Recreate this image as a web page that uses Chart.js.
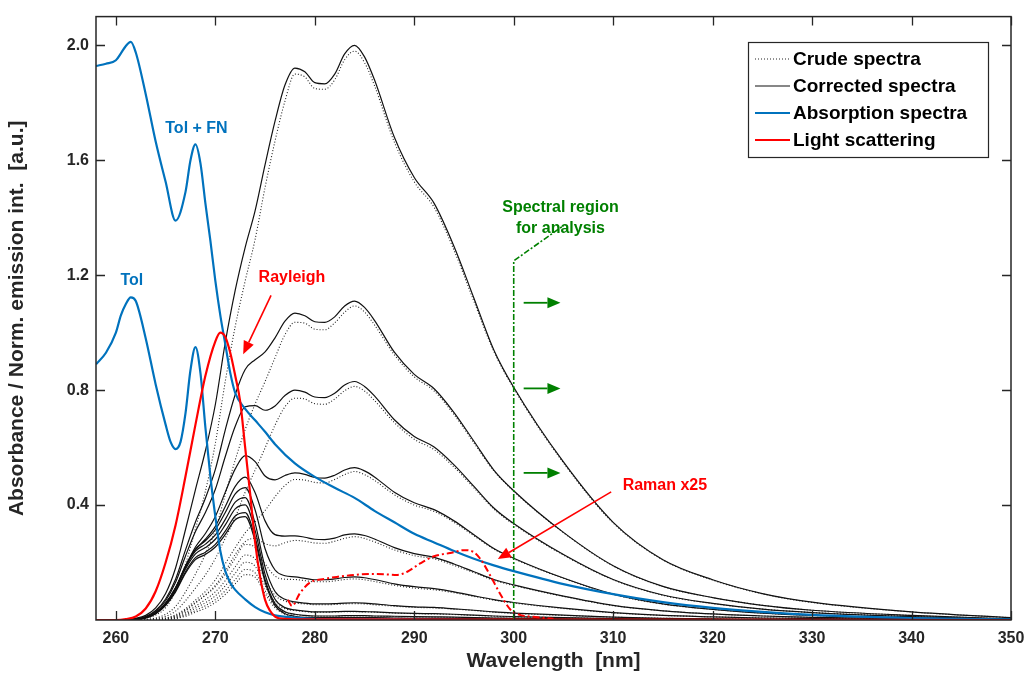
<!DOCTYPE html>
<html>
<head>
<meta charset="utf-8">
<script src="https://cdn.jsdelivr.net/npm/chart.js@4.4.0/dist/chart.umd.min.js"></script>
<style>
  html, body { margin: 0; padding: 0; background: #fff; }
  #wrap { width: 1025px; height: 675px; position: relative; }
</style>
</head>
<body>
<div id="wrap"><canvas id="spectra-chart"></canvas></div>
<script>
// wavelength grid (nm) of the emission spectra
var wavelengths = [258, 260, 262, 263, 264, 265, 266, 267, 268, 269, 270, 271, 272, 273, 274, 275, 276, 277, 278, 279, 280, 281, 282, 283, 284, 285, 286, 288, 290, 292, 294, 296, 298, 300, 305, 310, 315, 320, 325, 330, 340, 350];

// corrected emission spectra (solid)
var corrected1 = [0, 0, 0.006, 0.016, 0.042, 0.092, 0.181, 0.315, 0.454, 0.589, 0.75, 0.966, 1.148, 1.297, 1.425, 1.585, 1.736, 1.862, 1.921, 1.908, 1.87, 1.866, 1.9, 1.97, 2.0, 1.96, 1.88, 1.68, 1.54, 1.45, 1.3, 1.12, 0.94, 0.81, 0.55, 0.34, 0.21, 0.14, 0.092, 0.062, 0.028, 0.008];
var corrected2 = [0, 0, 0.004, 0.012, 0.033, 0.073, 0.142, 0.244, 0.341, 0.424, 0.524, 0.662, 0.785, 0.872, 0.906, 0.933, 0.982, 1.04, 1.068, 1.059, 1.038, 1.036, 1.055, 1.093, 1.11, 1.088, 1.043, 0.932, 0.855, 0.805, 0.722, 0.622, 0.522, 0.45, 0.305, 0.189, 0.117, 0.078, 0.051, 0.034, 0.016, 0.004];
var corrected3 = [0, 0, 0.003, 0.011, 0.03, 0.067, 0.131, 0.223, 0.308, 0.374, 0.455, 0.569, 0.674, 0.742, 0.746, 0.73, 0.745, 0.781, 0.8, 0.793, 0.776, 0.774, 0.789, 0.818, 0.83, 0.813, 0.78, 0.697, 0.639, 0.602, 0.54, 0.465, 0.39, 0.336, 0.228, 0.141, 0.087, 0.058, 0.038, 0.026, 0.012, 0.003];
var corrected4 = [0, 0, 0.003, 0.009, 0.025, 0.057, 0.11, 0.187, 0.254, 0.301, 0.36, 0.445, 0.526, 0.572, 0.551, 0.501, 0.488, 0.503, 0.512, 0.507, 0.496, 0.494, 0.504, 0.522, 0.53, 0.519, 0.498, 0.445, 0.408, 0.384, 0.345, 0.297, 0.249, 0.215, 0.146, 0.09, 0.056, 0.037, 0.024, 0.016, 0.007, 0.002];
var corrected5 = [0, 0, 0.002, 0.009, 0.025, 0.057, 0.11, 0.185, 0.245, 0.281, 0.326, 0.395, 0.465, 0.497, 0.443, 0.345, 0.297, 0.292, 0.293, 0.288, 0.281, 0.28, 0.285, 0.296, 0.3, 0.294, 0.282, 0.252, 0.231, 0.218, 0.195, 0.168, 0.141, 0.122, 0.083, 0.051, 0.032, 0.021, 0.014, 0.009, 0.004, 0.001];
var corrected6 = [0, 0, 0.002, 0.009, 0.025, 0.058, 0.113, 0.189, 0.247, 0.276, 0.314, 0.374, 0.439, 0.461, 0.383, 0.248, 0.174, 0.154, 0.15, 0.145, 0.14, 0.14, 0.143, 0.148, 0.15, 0.147, 0.141, 0.126, 0.116, 0.109, 0.098, 0.084, 0.071, 0.061, 0.041, 0.026, 0.016, 0.011, 0.007, 0.005, 0.002, 0.001];
var corrected7 = [0, 0, 0.002, 0.008, 0.025, 0.058, 0.111, 0.185, 0.24, 0.264, 0.296, 0.35, 0.41, 0.426, 0.336, 0.184, 0.099, 0.072, 0.063, 0.059, 0.056, 0.056, 0.057, 0.059, 0.06, 0.059, 0.056, 0.05, 0.046, 0.044, 0.039, 0.034, 0.028, 0.024, 0.017, 0.01, 0.006, 0.004, 0.003, 0.002, 0.001, 0];
var corrected8 = [0, 0, 0.002, 0.008, 0.024, 0.055, 0.107, 0.178, 0.23, 0.252, 0.281, 0.331, 0.387, 0.401, 0.311, 0.159, 0.072, 0.043, 0.035, 0.031, 0.028, 0.028, 0.029, 0.03, 0.03, 0.029, 0.028, 0.025, 0.023, 0.022, 0.02, 0.017, 0.014, 0.012, 0.008, 0.005, 0.003, 0.002, 0.001, 0.001, 0, 0];
var corrected9 = [0, 0, 0.002, 0.007, 0.022, 0.052, 0.101, 0.168, 0.217, 0.236, 0.263, 0.309, 0.362, 0.374, 0.287, 0.141, 0.057, 0.029, 0.02, 0.016, 0.014, 0.014, 0.014, 0.015, 0.015, 0.015, 0.014, 0.013, 0.012, 0.011, 0.01, 0.008, 0.007, 0.006, 0.004, 0.003, 0.002, 0.001, 0.001, 0, 0, 0];
var corrected10 = [0, 0, 0.002, 0.007, 0.022, 0.051, 0.098, 0.163, 0.21, 0.228, 0.254, 0.298, 0.349, 0.36, 0.275, 0.132, 0.05, 0.022, 0.013, 0.009, 0.008, 0.008, 0.008, 0.008, 0.008, 0.008, 0.008, 0.007, 0.006, 0.006, 0.005, 0.005, 0.004, 0.003, 0.002, 0.001, 0.001, 0, 0, 0, 0, 0];

// crude emission spectra (dotted)
var crude1 = [0, 0, 0.002, 0.006, 0.017, 0.043, 0.1, 0.195, 0.318, 0.448, 0.615, 0.831, 1.022, 1.18, 1.325, 1.506, 1.667, 1.806, 1.9, 1.89, 1.85, 1.847, 1.88, 1.95, 1.98, 1.94, 1.86, 1.663, 1.525, 1.436, 1.287, 1.109, 0.935, 0.806, 0.547, 0.338, 0.209, 0.139, 0.091, 0.061, 0.028, 0.008];
var crude2 = [0, 0, 0.001, 0.002, 0.007, 0.02, 0.047, 0.098, 0.16, 0.229, 0.314, 0.437, 0.557, 0.663, 0.752, 0.83, 0.913, 0.993, 1.036, 1.033, 1.012, 1.01, 1.034, 1.071, 1.093, 1.072, 1.027, 0.923, 0.846, 0.797, 0.715, 0.616, 0.519, 0.448, 0.304, 0.188, 0.116, 0.078, 0.051, 0.034, 0.016, 0.004];
var crude3 = [0, 0, 0, 0.001, 0.005, 0.013, 0.031, 0.067, 0.111, 0.157, 0.214, 0.285, 0.357, 0.445, 0.522, 0.599, 0.678, 0.742, 0.772, 0.769, 0.753, 0.751, 0.769, 0.798, 0.813, 0.797, 0.764, 0.687, 0.629, 0.593, 0.532, 0.46, 0.386, 0.333, 0.226, 0.14, 0.086, 0.057, 0.038, 0.026, 0.012, 0.003];
var crude4 = [0, 0, 0, 0.001, 0.002, 0.007, 0.018, 0.039, 0.069, 0.099, 0.14, 0.196, 0.252, 0.303, 0.342, 0.381, 0.429, 0.468, 0.489, 0.487, 0.479, 0.477, 0.489, 0.506, 0.517, 0.506, 0.486, 0.436, 0.4, 0.378, 0.34, 0.293, 0.247, 0.213, 0.145, 0.089, 0.055, 0.037, 0.024, 0.016, 0.007, 0.002];
var crude5 = [0, 0, 0, 0, 0.002, 0.006, 0.015, 0.035, 0.061, 0.087, 0.121, 0.17, 0.228, 0.273, 0.284, 0.266, 0.258, 0.269, 0.277, 0.274, 0.268, 0.267, 0.274, 0.284, 0.29, 0.284, 0.272, 0.244, 0.224, 0.213, 0.19, 0.165, 0.138, 0.12, 0.082, 0.05, 0.032, 0.021, 0.014, 0.009, 0.004, 0.001];
var crude6 = [0, 0, 0, 0, 0.001, 0.004, 0.013, 0.032, 0.059, 0.086, 0.116, 0.161, 0.215, 0.263, 0.253, 0.196, 0.153, 0.142, 0.141, 0.137, 0.133, 0.133, 0.136, 0.141, 0.143, 0.14, 0.134, 0.121, 0.111, 0.105, 0.095, 0.082, 0.069, 0.059, 0.04, 0.025, 0.016, 0.011, 0.007, 0.005, 0.002, 0.001];
var crude7 = [0, 0, 0, 0, 0.001, 0.003, 0.01, 0.026, 0.048, 0.071, 0.098, 0.137, 0.185, 0.226, 0.212, 0.142, 0.086, 0.066, 0.059, 0.056, 0.053, 0.053, 0.054, 0.056, 0.057, 0.056, 0.053, 0.048, 0.044, 0.042, 0.038, 0.033, 0.027, 0.023, 0.016, 0.01, 0.006, 0.004, 0.003, 0.002, 0.001, 0];
var crude8 = [0, 0, 0, 0, 0.001, 0.003, 0.008, 0.021, 0.041, 0.06, 0.084, 0.119, 0.163, 0.201, 0.187, 0.119, 0.062, 0.039, 0.033, 0.029, 0.027, 0.027, 0.028, 0.029, 0.029, 0.028, 0.027, 0.024, 0.022, 0.021, 0.019, 0.016, 0.013, 0.011, 0.008, 0.005, 0.003, 0.002, 0.001, 0.001, 0, 0];
var crude9 = [0, 0, 0, 0, 0.001, 0.002, 0.006, 0.017, 0.033, 0.05, 0.071, 0.102, 0.141, 0.176, 0.164, 0.102, 0.048, 0.026, 0.019, 0.015, 0.013, 0.013, 0.013, 0.014, 0.014, 0.014, 0.013, 0.012, 0.011, 0.01, 0.009, 0.008, 0.007, 0.006, 0.004, 0.003, 0.002, 0.001, 0.001, 0, 0, 0];
var crude10 = [0, 0, 0, 0, 0, 0.002, 0.005, 0.013, 0.027, 0.041, 0.061, 0.089, 0.126, 0.158, 0.149, 0.092, 0.042, 0.02, 0.012, 0.008, 0.007, 0.007, 0.007, 0.0075, 0.0075, 0.0075, 0.007, 0.006, 0.006, 0.005, 0.005, 0.004, 0.004, 0.003, 0.002, 0.001, 0.001, 0, 0, 0, 0, 0];

// absorption spectra (blue)
var absTolFnX = [258, 259, 260, 260.5, 261, 261.5, 262, 263, 264, 265, 266, 267, 267.5, 268, 268.5, 269, 269.5, 270, 270.5, 271, 271.5, 272, 273, 274, 275, 276, 278, 280, 282, 284, 286, 288, 290, 292, 294, 296, 298, 300, 305, 310, 315, 320, 325, 330, 340, 350];
var absTolFnY = [1.928, 1.936, 1.948, 1.972, 1.998, 2.012, 1.975, 1.83, 1.665, 1.525, 1.39, 1.49, 1.6, 1.655, 1.59, 1.45, 1.32, 1.18, 1.06, 0.96, 0.86, 0.79, 0.735, 0.695, 0.655, 0.612, 0.545, 0.498, 0.46, 0.425, 0.38, 0.34, 0.3, 0.27, 0.24, 0.213, 0.19, 0.17, 0.125, 0.09, 0.062, 0.042, 0.028, 0.018, 0.007, 0.002];
var absTolX = [258, 259, 260, 260.5, 261, 261.5, 262, 263, 264, 265, 265.5, 266, 266.5, 267, 267.5, 268, 268.5, 269, 269.5, 270, 270.5, 271, 271.5, 272, 273, 274, 275, 276, 278, 280, 285, 290, 300, 350];
var absTolY = [0.89, 0.93, 1.0, 1.06, 1.1, 1.123, 1.11, 0.98, 0.82, 0.68, 0.62, 0.595, 0.62, 0.72, 0.87, 0.95, 0.86, 0.67, 0.5, 0.36, 0.24, 0.17, 0.13, 0.105, 0.072, 0.045, 0.027, 0.016, 0.008, 0.004, 0.002, 0.001, 0, 0];

// light scattering (red)
var rayleighX = [258, 260, 261, 262, 263, 264, 265, 266, 267, 268, 269, 270, 270.5, 271, 271.5, 272, 272.5, 273, 273.5, 274, 274.5, 275, 275.5, 276, 277, 280, 300, 350];
var rayleighY = [0, 0, 0.003, 0.012, 0.04, 0.1, 0.2, 0.33, 0.5, 0.68, 0.85, 0.97, 1.0, 0.985, 0.93, 0.85, 0.76, 0.6, 0.44, 0.27, 0.15, 0.07, 0.032, 0.012, 0.004, 0.002, 0.001, 0];
var ramanX = [277.3, 277.7, 278.5, 279.5, 281, 282.2, 284, 285.6, 287, 288.3, 289.3, 290.6, 292, 293.6, 295, 296, 296.7, 297.7, 298.7, 299.7, 300.7, 302, 304];
var ramanY = [0.07, 0.049, 0.093, 0.13, 0.143, 0.15, 0.157, 0.16, 0.159, 0.157, 0.168, 0.197, 0.222, 0.233, 0.243, 0.236, 0.21, 0.151, 0.087, 0.035, 0.017, 0.011, 0.004];

// spectral region marker (green)
var regionX = [300, 300, 304.9];
var regionY = [0, 1.25, 1.37];

var xTicks = [260, 270, 280, 290, 300, 310, 320, 330, 340, 350];
var yTicks = [0.4, 0.8, 1.2, 1.6, 2.0];

var correctedSpectra = [corrected1, corrected2, corrected3, corrected4, corrected5, corrected6, corrected7, corrected8, corrected9, corrected10];
var crudeSpectra = [crude1, crude2, crude3, crude4, crude5, crude6, crude7, crude8, crude9, crude10];

var BLUE = '#0072BD';
var RED = '#FF0000';
var GREEN = '#008000';
var FONT = '"Liberation Sans", Arial, Helvetica, sans-serif';

function toPoints(xs, ys) {
    return xs.map(function(x, i) { return { x: x, y: ys[i] }; });
}

var datasets = [];
datasets.push({ label: 'Rayleigh', data: toPoints(rayleighX, rayleighY), borderColor: RED, borderWidth: 2.2, order: 1, cubicInterpolationMode: 'monotone' });
datasets.push({ label: 'Raman x25', data: toPoints(ramanX, ramanY), borderColor: RED, borderWidth: 2, borderDash: [7, 3, 2, 3], order: 1, cubicInterpolationMode: 'monotone' });
datasets.push({ label: 'Tol + FN', data: toPoints(absTolFnX, absTolFnY), borderColor: BLUE, borderWidth: 2.2, order: 2, cubicInterpolationMode: 'monotone' });
datasets.push({ label: 'Tol', data: toPoints(absTolX, absTolY), borderColor: BLUE, borderWidth: 2.2, order: 2, cubicInterpolationMode: 'monotone' });
datasets.push({ label: 'Region', data: toPoints(regionX, regionY), borderColor: GREEN, borderWidth: 1.6, borderDash: [6, 2, 2, 2], order: 3, tension: 0 });
correctedSpectra.forEach(function(ys, i) {
    datasets.push({ label: 'Corrected ' + (i + 1), data: toPoints(wavelengths, ys), borderColor: '#111', borderWidth: 1.2, order: 4, cubicInterpolationMode: 'monotone' });
});
crudeSpectra.forEach(function(ys, i) {
    datasets.push({ label: 'Crude ' + (i + 1), data: toPoints(wavelengths, ys), borderColor: '#222', borderWidth: 1.1, borderDash: [1, 2], order: 5, cubicInterpolationMode: 'monotone' });
});

// texts and arrows placed in data units
var labels = [
    { text: 'Tol + FN', x: 268.1, y: 1.71, color: BLUE },
    { text: 'Tol', x: 261.6, y: 1.182, color: BLUE },
    { text: 'Rayleigh', x: 277.7, y: 1.193, color: RED },
    { text: 'Raman x25', x: 315.2, y: 0.469, color: RED },
    { text: 'Spectral region', x: 304.7, y: 1.435, color: GREEN },
    { text: 'for analysis', x: 304.7, y: 1.362, color: GREEN }
];
var arrows = [
    { x1: 275.6, y1: 1.13, x2: 272.8, y2: 0.925, color: RED, width: 1.6 },
    { x1: 309.8, y1: 0.446, x2: 298.4, y2: 0.212, color: RED, width: 1.6 },
    { x1: 301.0, y1: 1.104, x2: 304.7, y2: 1.104, color: GREEN, width: 1.8 },
    { x1: 301.0, y1: 0.806, x2: 304.7, y2: 0.806, color: GREEN, width: 1.8 },
    { x1: 301.0, y1: 0.512, x2: 304.7, y2: 0.512, color: GREEN, width: 1.8 }
];
var legendItems = [
    { text: 'Crude spectra', color: '#222', width: 1, dash: [1, 2] },
    { text: 'Corrected spectra', color: '#111', width: 1.2, dash: [] },
    { text: 'Absorption spectra', color: BLUE, width: 2, dash: [] },
    { text: 'Light scattering', color: RED, width: 2, dash: [] }
];

function drawArrow(ctx, x1, y1, x2, y2, color, width) {
    var ang = Math.atan2(y2 - y1, x2 - x1);
    var head = 13, half = 5.5;
    var bx = x2 - head * Math.cos(ang), by = y2 - head * Math.sin(ang);
    ctx.strokeStyle = color;
    ctx.fillStyle = color;
    ctx.lineWidth = width;
    ctx.setLineDash([]);
    ctx.beginPath();
    ctx.moveTo(x1, y1);
    ctx.lineTo(bx, by);
    ctx.stroke();
    ctx.beginPath();
    ctx.moveTo(x2, y2);
    ctx.lineTo(bx + half * Math.sin(ang), by - half * Math.cos(ang));
    ctx.lineTo(bx - half * Math.sin(ang), by + half * Math.cos(ang));
    ctx.closePath();
    ctx.fill();
}

var decorations = {
    id: 'decorations',
    afterDatasetsDraw: function(chart) {
        var ctx = chart.ctx, a = chart.chartArea;
        var xs = chart.scales.x, ys = chart.scales.y;
        ctx.save();

        arrows.forEach(function(ar) {
            drawArrow(ctx, xs.getPixelForValue(ar.x1), ys.getPixelForValue(ar.y1),
                xs.getPixelForValue(ar.x2), ys.getPixelForValue(ar.y2), ar.color, ar.width);
        });

        ctx.font = 'bold 16px ' + FONT;
        ctx.textAlign = 'center';
        ctx.textBaseline = 'middle';
        labels.forEach(function(lb) {
            ctx.fillStyle = lb.color;
            ctx.fillText(lb.text, xs.getPixelForValue(lb.x), ys.getPixelForValue(lb.y));
        });

        // frame with inward ticks
        ctx.setLineDash([]);
        ctx.strokeStyle = '#262626';
        ctx.lineWidth = 1.5;
        ctx.strokeRect(a.left, a.top, a.right - a.left, a.bottom - a.top);
        ctx.lineWidth = 1.3;
        ctx.beginPath();
        xTicks.forEach(function(v) {
            var px = Math.round(xs.getPixelForValue(v)) + 0.5;
            ctx.moveTo(px, a.bottom); ctx.lineTo(px, a.bottom - 9);
            ctx.moveTo(px, a.top); ctx.lineTo(px, a.top + 9);
        });
        yTicks.forEach(function(v) {
            var py = Math.round(ys.getPixelForValue(v)) + 0.5;
            ctx.moveTo(a.left, py); ctx.lineTo(a.left + 9, py);
            ctx.moveTo(a.right, py); ctx.lineTo(a.right - 9, py);
        });
        ctx.stroke();

        // legend box
        var lx = 748, ly = 42, lw = 240, lh = 115;
        ctx.fillStyle = '#fff';
        ctx.fillRect(lx, ly, lw, lh);
        ctx.strokeStyle = '#262626';
        ctx.lineWidth = 1.2;
        ctx.strokeRect(lx + 0.5, ly + 0.5, lw, lh);
        ctx.font = 'bold 19px ' + FONT;
        ctx.textAlign = 'left';
        legendItems.forEach(function(it, i) {
            var ry = ly + 17 + i * 27;
            ctx.strokeStyle = it.color;
            ctx.lineWidth = it.width;
            ctx.setLineDash(it.dash);
            ctx.beginPath();
            ctx.moveTo(lx + 7, ry);
            ctx.lineTo(lx + 42, ry);
            ctx.stroke();
            ctx.fillStyle = '#000';
            ctx.fillText(it.text, lx + 45, ry + 1);
        });
        ctx.restore();
    }
};

var ctx = document.getElementById('spectra-chart').getContext('2d');
var chart = new Chart(ctx, {
    type: 'line',
    data: { datasets: datasets },
    options: {
        responsive: true,
        maintainAspectRatio: false,
        animation: false,
        events: [],
        elements: { point: { radius: 0 } },
        layout: { padding: { left: 0, top: 16, right: 14, bottom: 0 } },
        plugins: { legend: { display: false }, tooltip: { enabled: false } },
        scales: {
            x: {
                type: 'linear',
                min: 258,
                max: 350,
                grid: { display: false, drawTicks: false },
                border: { display: false },
                afterBuildTicks: function(scale) {
                    scale.ticks = xTicks.map(function(v) { return { value: v }; });
                },
                afterFit: function(scale) {
                    scale.height = 55;
                    scale.paddingLeft = 0;
                    scale.paddingRight = 0;
                },
                ticks: { color: '#262626', font: { family: FONT, size: 16, weight: 'bold' }, padding: 9, maxRotation: 0 },
                title: { display: true, text: 'Wavelength  [nm]', color: '#262626', font: { family: FONT, size: 21, weight: 'bold' }, padding: { top: 0, bottom: 1 } }
            },
            y: {
                type: 'linear',
                min: 0,
                max: 2.1,
                grid: { display: false, drawTicks: false },
                border: { display: false },
                afterBuildTicks: function(scale) {
                    scale.ticks = yTicks.map(function(v) { return { value: v }; });
                },
                afterFit: function(scale) { scale.width = 96; },
                ticks: {
                    color: '#262626', font: { family: FONT, size: 16, weight: 'bold' }, padding: 7,
                    callback: function(v) { return Number(v).toFixed(1); }
                },
                title: { display: true, text: 'Absorbance / Norm. emission int.  [a.u.]', color: '#262626', font: { family: FONT, size: 21, weight: 'bold' }, padding: { top: 5, bottom: 0 } }
            }
        }
    },
    plugins: [decorations]
});
</script>
</body>
</html>
